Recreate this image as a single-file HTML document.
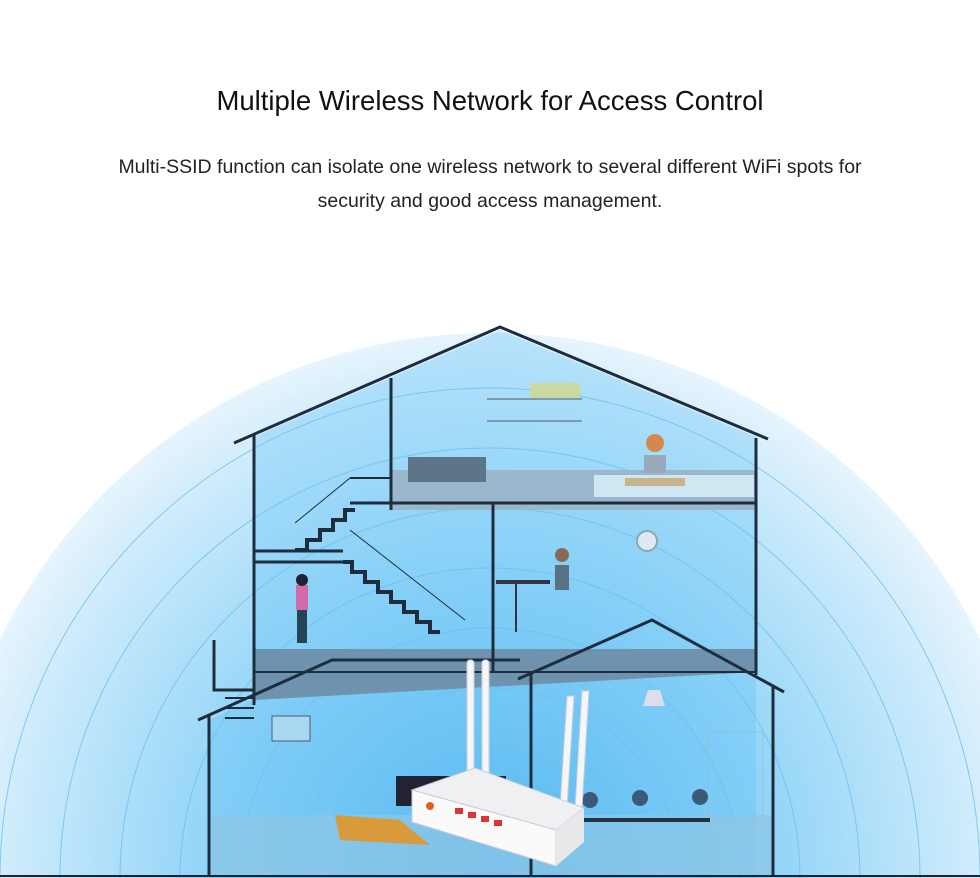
<!DOCTYPE html>
<html><head><meta charset="utf-8"><style>
html,body{margin:0;padding:0;background:#fff;width:980px;height:878px;overflow:hidden;}
body{position:relative;font-family:"Liberation Sans",sans-serif;}
h1{position:absolute;top:85px;left:0;width:980px;text-align:center;margin:0;font-weight:normal;font-size:27.5px;line-height:32px;color:#111;}
p{position:absolute;top:150px;left:0;width:980px;text-align:center;margin:0;font-size:19.5px;line-height:34px;color:#222;}
svg{position:absolute;left:0;top:0;display:block;}
</style></head><body>
<svg width="980" height="878" viewBox="0 0 980 878">
<defs>
<radialGradient id="g" cx="490" cy="878" r="545" gradientUnits="userSpaceOnUse">
<stop offset="0" stop-color="#4fb4ee"/><stop offset="0.5" stop-color="#8fd3f7"/><stop offset="0.85" stop-color="#c8e9fb"/><stop offset="1" stop-color="#e6f4fd"/>
</radialGradient>
</defs>
<circle cx="490" cy="878" r="545" fill="url(#g)"/>
<g fill="none" stroke="#6cc0f0" stroke-width="1" opacity="0.8">
<circle cx="490" cy="878" r="490"/><circle cx="490" cy="878" r="430"/><circle cx="490" cy="878" r="370"/><circle cx="490" cy="878" r="310"/><circle cx="490" cy="878" r="250"/><circle cx="490" cy="878" r="190"/><circle cx="490" cy="878" r="130"/>
</g>
<polygon points="254,437 500,330 756,437 756,878 209,878 209,720 254,700" fill="#64c4f5" opacity="0.35"/>
<polygon points="391,470 756,470 756,510 391,510" fill="#9bb7cc"/>
<rect x="594" y="475" width="160" height="22" fill="#cfe6f3"/>
<polygon points="254,649 756,649 756,672 254,700" fill="#6f93ae"/>
<rect x="209" y="815" width="564" height="61" fill="#8fc6e6" opacity="0.7"/>
<rect x="408" y="457" width="78" height="25" fill="#5d7588"/>
<line x1="487" y1="399" x2="582" y2="399" stroke="#556"/><line x1="487" y1="421" x2="582" y2="421" stroke="#556"/>
<rect x="530" y="383" width="50" height="15" fill="#c9d9a0"/>
<circle cx="655" cy="443" r="9" fill="#d4884e"/><rect x="644" y="455" width="22" height="18" fill="#9ab"/>
<rect x="625" y="478" width="60" height="8" fill="#c9b48a"/>
<circle cx="562" cy="555" r="7" fill="#8a6a55"/><rect x="555" y="565" width="14" height="25" fill="#5a7184"/>
<rect x="496" y="580" width="54" height="4" fill="#334"/><line x1="516" y1="584" x2="516" y2="632" stroke="#334" stroke-width="2"/>
<rect x="296" y="585" width="12" height="25" fill="#d56aa8"/><rect x="297" y="610" width="10" height="33" fill="#245"/><circle cx="302" cy="580" r="6" fill="#223"/>
<circle cx="647" cy="541" r="10" fill="#dfe9f1" stroke="#8aa" stroke-width="2"/>
<polyline points="295,550 307,550 307,540 320,540 320,530 333,530 333,520 345,520 345,510 355,510" fill="none" stroke="#1d2d3e" stroke-width="4"/>
<polyline points="343,562 352,562 352,572 365,572 365,582 378,582 378,592 391,592 391,602 404,602 404,612 417,612 417,622 430,622 430,632 440,632" fill="none" stroke="#1d2d3e" stroke-width="4"/>
<line x1="295" y1="523" x2="350" y2="478" stroke="#1d2d3e"/><line x1="350" y1="478" x2="390" y2="478" stroke="#1d2d3e" stroke-width="2"/>
<line x1="350" y1="530" x2="465" y2="620" stroke="#1d2d3e"/>
<g stroke="#1d2d3e" stroke-width="3" fill="none">
<polyline points="234,443 500,327 768,439"/>
<line x1="254" y1="435" x2="254" y2="705"/>
<line x1="756" y1="438" x2="756" y2="675"/>
<line x1="391" y1="378" x2="391" y2="510"/>
<line x1="350" y1="503" x2="756" y2="503"/>
<line x1="254" y1="551" x2="343" y2="551"/>
<line x1="254" y1="562" x2="343" y2="562"/>
<line x1="493" y1="503" x2="493" y2="672"/>
<line x1="254" y1="672" x2="756" y2="672" stroke-width="2"/>
<polyline points="198,720 332,660 520,660"/>
<line x1="209" y1="715" x2="209" y2="876"/>
<polyline points="214,640 214,690 254,690"/>
<line x1="225" y1="698" x2="254" y2="698" stroke-width="2"/><line x1="225" y1="708" x2="254" y2="708" stroke-width="2"/><line x1="225" y1="718" x2="254" y2="718" stroke-width="2"/>
<polyline points="518,679 652,620 784,692"/>
<line x1="531" y1="672" x2="531" y2="876"/>
<line x1="773" y1="685" x2="773" y2="876"/>
</g>
<line x1="0" y1="876" x2="980" y2="876" stroke="#223" stroke-width="2"/>
<rect x="272" y="716" width="38" height="25" fill="#a8d8f2" stroke="#557" stroke-width="1"/>
<rect x="396" y="776" width="110" height="30" fill="#223"/>
<polygon points="648,690 660,690 665,706 643,706" fill="#dde"/>
<rect x="708" y="732" width="55" height="90" fill="none" stroke="#9bb" opacity="0.6"/>
<g fill="#3a5a78"><circle cx="590" cy="800" r="8"/><circle cx="640" cy="798" r="8"/><circle cx="700" cy="797" r="8"/></g>
<rect x="560" y="818" width="150" height="4" fill="#234"/>
<polygon points="335,815 400,820 430,845 340,840" fill="#d89a3a"/>
<rect x="467" y="660" width="7" height="118" rx="3" fill="#f4f6f7" stroke="#ccd"/>
<rect x="482" y="660" width="7" height="118" rx="3" fill="#f4f6f7" stroke="#ccd"/>
<polygon points="567,696 574,696 567,808 560,808" fill="#f4f6f7" stroke="#ccd"/>
<polygon points="582,691 589,691 582,808 575,808" fill="#f4f6f7" stroke="#ccd"/>
<polygon points="412,790 475,768 584,808 556,830" fill="#eef0f2" stroke="#ccd"/>
<polygon points="412,790 556,830 556,866 412,822" fill="#fafafa" stroke="#ccd"/>
<polygon points="556,830 584,808 584,842 556,866" fill="#e6e8ea"/>
<g fill="#d33"><rect x="455" y="808" width="8" height="6"/><rect x="468" y="812" width="8" height="6"/><rect x="481" y="816" width="8" height="6"/><rect x="494" y="820" width="8" height="6"/></g>
<circle cx="430" cy="806" r="4" fill="#e06020"/>
</svg>
<h1>Multiple Wireless Network for Access Control</h1>
<p>Multi-SSID function can isolate one wireless network to several different WiFi spots for<br>security and good access management.</p>
</body></html>
